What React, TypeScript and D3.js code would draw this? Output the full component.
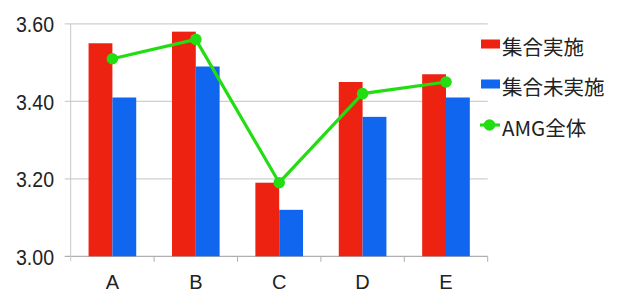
import React from "react";
import * as d3 from "d3";

const categories = ["A", "B", "C", "D", "E"];
const seriesNames = ["集合実施", "集合未実施"];
const implemented = [3.55, 3.58, 3.19, 3.45, 3.47];
const notImplemented = [3.41, 3.49, 3.12, 3.36, 3.41];
const overallName = "AMG全体";
const overall = [3.51, 3.56, 3.19, 3.42, 3.45];
const yTicks = [3.0, 3.2, 3.4, 3.6];

const W = 617;
const H = 294;
const RED = "#ee2211";
const BLUE = "#1166f0";
const GREEN = "#22dd11";
const numFont = "'Liberation Sans', Arial, sans-serif";
const jpFont = "'Noto Sans CJK JP', 'Noto Sans', sans-serif";

const App = () => {
  const x = d3.scaleBand().domain(categories).range([70.7, 487.7]).padding(0);
  const inner = d3
    .scaleBand()
    .domain(seriesNames)
    .range([0, x.bandwidth()])
    .paddingInner(0)
    .paddingOuter(0.75);
  const y = d3.scaleLinear().domain([3.0, 3.6]).range([256.3, 23.9]);

  const bars = categories.flatMap((c, i) => [
    { c, s: seriesNames[0], v: implemented[i], color: RED },
    { c, s: seriesNames[1], v: notImplemented[i], color: BLUE },
  ]);

  const line = d3
    .line<number>()
    .x((_, i) => (x(categories[i]) as number) + x.bandwidth() / 2)
    .y((d) => y(d));

  const [x0, x1] = x.range();
  const legendX = 481;
  const legendRows = [44, 84, 125];

  return (
    <svg
      width={W}
      height={H}
      style={{ position: "absolute", left: 0, top: 0, background: "#fff" }}
    >
      {yTicks.map((t) => (
        <g key={t}>
          <line
            x1={x0 - 6}
            x2={x1}
            y1={y(t)}
            y2={y(t)}
            stroke={t === 3.0 ? "#b0b0b0" : "#cfcfcf"}
            strokeWidth={1.2}
          />
          <text
            x={54}
            y={y(t) + 8.5}
            textAnchor="end"
            fontFamily={numFont}
            fontSize={22}
            textLength={38}
            lengthAdjust="spacingAndGlyphs"
            fill="#222"
          >
            {t.toFixed(2)}
          </text>
        </g>
      ))}
      <line x1={x0} x2={x0} y1={y(3.6)} y2={y(3.0) + 5} stroke="#c8c8c8" strokeWidth={1} />
      {categories.map((c) => (
        <line
          key={"t" + c}
          x1={(x(c) as number) + x.bandwidth()}
          x2={(x(c) as number) + x.bandwidth()}
          y1={y(3.0)}
          y2={y(3.0) + 5.5}
          stroke="#b0b0b0"
          strokeWidth={1}
        />
      ))}
      {bars.map((b) => (
        <rect
          key={b.c + b.s}
          x={(x(b.c) as number) + (inner(b.s) as number)}
          y={y(b.v)}
          width={inner.bandwidth()}
          height={y(3.0) - y(b.v)}
          fill={b.color}
        />
      ))}
      <path d={line(overall) ?? ""} fill="none" stroke={GREEN} strokeWidth={3.2} />
      {overall.map((v, i) => (
        <circle
          key={"p" + i}
          cx={(x(categories[i]) as number) + x.bandwidth() / 2}
          cy={y(v)}
          r={5.8}
          fill={GREEN}
        />
      ))}
      {categories.map((c) => (
        <text
          key={"l" + c}
          x={(x(c) as number) + x.bandwidth() / 2}
          y={288.5}
          textAnchor="middle"
          fontFamily={numFont}
          fontSize={20}
          fill="#222"
        >
          {c}
        </text>
      ))}
      {[RED, BLUE].map((col, i) => (
        <g key={"lg" + i}>
          <rect x={legendX} y={legendRows[i] - 4.5} width={19} height={9} fill={col} />
          <text
            x={legendX + 21}
            y={legendRows[i] + 10.5}
            fontFamily={jpFont}
            fontSize={20.5}
            fill="#222"
          >
            {seriesNames[i]}
          </text>
        </g>
      ))}
      <line
        x1={legendX - 1}
        x2={legendX + 19}
        y1={legendRows[2]}
        y2={legendRows[2]}
        stroke={GREEN}
        strokeWidth={3.2}
      />
      <circle cx={legendX + 8.5} cy={legendRows[2]} r={5.8} fill={GREEN} />
      <text
        x={legendX + 21}
        y={legendRows[2] + 10.5}
        fontFamily={jpFont}
        fontSize={20.5}
        fill="#222"
      >
        {overallName}
      </text>
    </svg>
  );
};

export default App;
